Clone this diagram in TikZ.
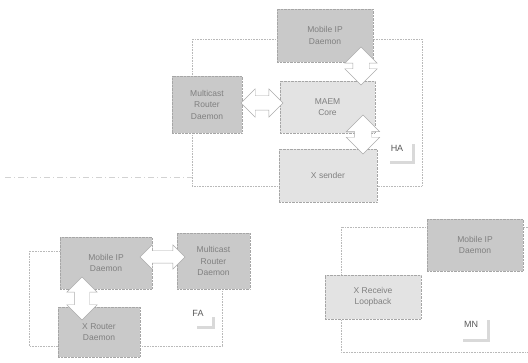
\documentclass[tikz,border=0pt]{standalone}
\usepackage{fontspec}
\setsansfont{Liberation Sans}
\usetikzlibrary{shapes.arrows}

\begin{document}
\begin{tikzpicture}[x=1pt, y=-1pt,
  box/.style={draw=gray!70, densely dotted, fill=gray!42, inner sep=0pt,
    font=\sffamily\fontsize{8.5}{11.5}\selectfont, text=black!50, align=center},
  litebox/.style={box, fill=gray!22},
  frame/.style={draw=gray!55, densely dotted, line width=.6pt},
  dblarrow/.style={double arrow, draw=gray!65, solid, fill=white,
    inner xsep=0pt, inner ysep=#1/4, double arrow head extend=#1/4,
    minimum width=#1},
  tag/.style={font=\sffamily\fontsize{9}{11}\selectfont, text=black!65},
  corner/.style={draw=gray!30, line width=3pt}]

\useasboundingbox (0,0) rectangle (528,363);

% frames
\draw [frame] (192,39) coordinate (haf) rectangle (422,186);
\draw [gray!35, dash pattern=on 6pt off 3pt on 1pt off 3pt]
  (5,177) -- (haf |- 0,177);
\draw [frame] (29,251) rectangle (222,346);
\draw [frame] (528,227) -- (341,227) -- (341,352) -- (528,352);

% HA
\node [box, minimum width=96pt, minimum height=53pt] (haMip) at (325,35.5) {Mobile IP\\Daemon};
\node [box, minimum width=70pt, minimum height=57pt] (haMcast) at (207,104.5) {Multicast\\Router\\Daemon};
\node [litebox, minimum width=95pt, minimum height=52pt] (haCore) at (327.5,107) {MAEM\\Core};
\node [litebox, minimum width=98pt, minimum height=53pt] (haXs) at (328,175.5) {X sender};

\node [dblarrow=32pt, minimum height=38pt, rotate=90] (haA) at (361,66) {};
\node [dblarrow=33pt, minimum height=39pt, rotate=90] (haB) at (363,134.5) {};
\node [dblarrow=28pt, minimum height=42pt] (haC) at (262,103) {};

\node [tag] (haTag) at (397,148) {HA};
\draw [corner] (390,163) -- (413,163) -- (413,144);

% FA
\node [box, minimum width=92pt, minimum height=52pt] (faMip) at (106,263) {Mobile IP\\Daemon};
\node [box, minimum width=73pt, minimum height=56pt] (faMcast) at (213.5,261) {Multicast\\Router\\Daemon};
\node [box, minimum width=82pt, minimum height=50pt] (faXr) at (99,332) {X Router\\Daemon};

\node [dblarrow=24pt, minimum height=45pt] (faA) at (162.5,257) {};
\node [dblarrow=30pt, minimum height=43pt, rotate=90] (faB) at (82,298.5) {};

\node [tag] (faTag) at (198,313) {FA};
\draw [corner] (197,328) -- (213,328) -- (213,317);

% MN
\node [box, minimum width=96pt, minimum height=52pt] (mnMip) at (475,245) {Mobile IP\\Daemon};
\node [litebox, minimum width=96pt, minimum height=44pt] (mnXrl) at (373,297) {X Receive\\Loopback};

\node [tag] (mnTag) at (471,324) {MN};
\draw [corner] (463,341) -- (488,341) -- (488,320);

\end{tikzpicture}
\end{document}
